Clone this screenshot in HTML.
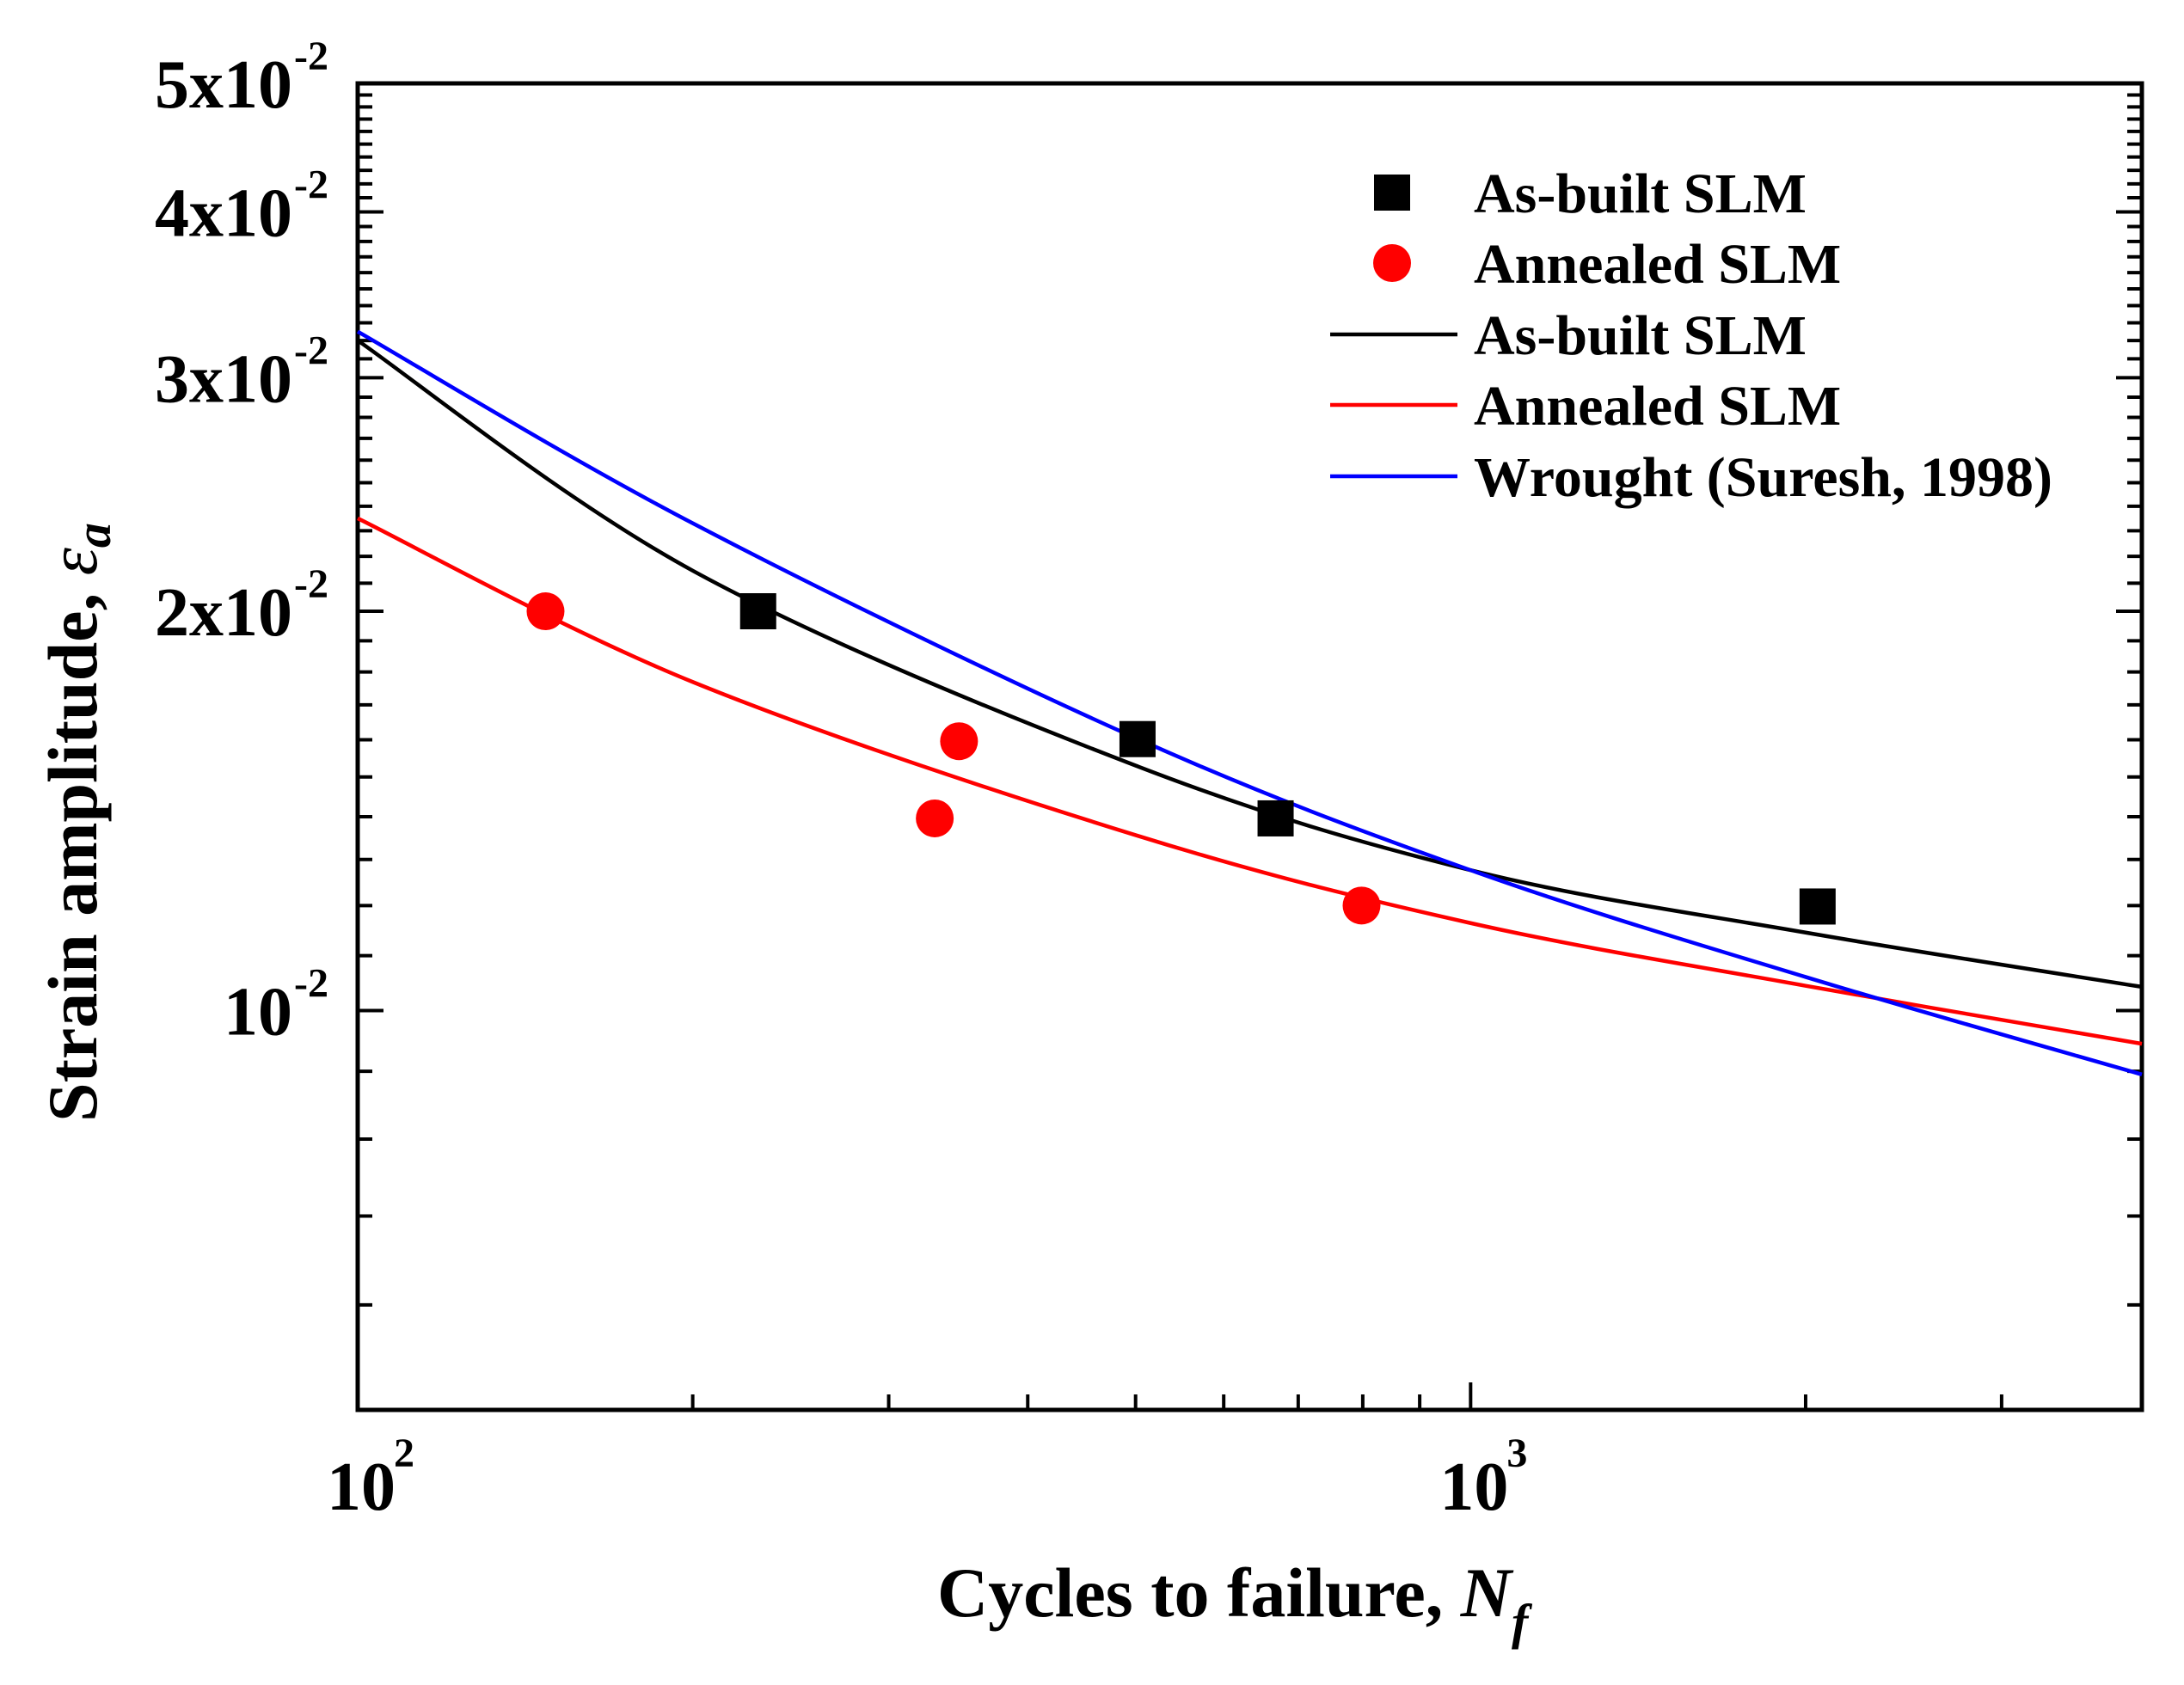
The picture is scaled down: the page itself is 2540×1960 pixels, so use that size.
<!DOCTYPE html>
<html><head><meta charset="utf-8"><style>
html,body{margin:0;padding:0;background:#fff}
svg{display:block}
text{font-family:"Liberation Serif",serif;font-weight:bold;fill:#000}
</style></head><body>
<svg id="chart" width="2540" height="1960" viewBox="0 0 2540 1960" xmlns="http://www.w3.org/2000/svg">
<g id="grid"></g>
<g id="series"></g>
<g id="legend"></g>
</svg>
<script>
const xDomain=[100,4010];
const yDomain=[0.005,0.05];
const asBuiltN=[229,502,668,2050];
const asBuiltE=[0.0200,0.01602,0.01396,0.01198];
const annealedN=[147.5,347,330,798];
const annealedE=[0.0200,0.01596,0.01396,0.0120];
const fitN=[100,200,500,1000,2000,4010];
const fitAsBuilt=[0.0320,0.02146,0.0153,0.01276,0.01145,0.01042];
const fitAnnealed=[0.0235,0.01769,0.01356,0.01164,0.01044,0.00944];
const fitWrought=[0.0325,0.0233,0.01605,0.01276,0.0106,0.00895];
const yMajor=[0.01,0.02,0.03,0.04,0.05];
const yMajorLabels=[["10","-2"],["2x10","-2"],["3x10","-2"],["4x10","-2"],["5x10","-2"]];
const xMajor=[100,1000];
const xMajorLabels=[["10","2"],["10","3"]];

const L=416,R=2491,T=97,B=1640;
const NS="http://www.w3.org/2000/svg";
function sx(v){return L+(Math.log10(v)-Math.log10(xDomain[0]))/(Math.log10(xDomain[1])-Math.log10(xDomain[0]))*(R-L);}
function sy(v){return B-(Math.log10(v)-Math.log10(yDomain[0]))/(Math.log10(yDomain[1])-Math.log10(yDomain[0]))*(B-T);}
function mk(tag,attrs,parent){const e=document.createElementNS(NS,tag);for(const k in attrs)e.setAttribute(k,attrs[k]);parent.appendChild(e);return e;}
const g=document.getElementById('grid'),s=document.getElementById('series'),lg=document.getElementById('legend');

let fr=mk('rect',{x:L,y:T,width:R-L,height:B-T,fill:'none',stroke:'#000','stroke-width':5},g);



for(let k=5;k<=50;k++){
  const v=k/1000;const y=sy(v);
  const major=yMajor.some(m=>Math.abs(m-v)<1e-9);
  const len=major?30:17;
  let t1=mk('line',{x1:L,x2:L+len,y1:y,y2:y,stroke:'#000','stroke-width':4},g);
  
  
  let t2=mk('line',{x1:R-len,x2:R,y1:y,y2:y,stroke:'#000','stroke-width':4},g);
  
  
}
yMajor.forEach((v,i)=>{
  const t=mk('text',{x:340,y:sy(v)+28,'text-anchor':'end','font-size':80},g);
  
  
  t.textContent=yMajorLabels[i][0];
  const sp=mk('text',{x:342,y:sy(v)-16,'text-anchor':'start','font-size':48},g);
  
  
  sp.textContent=yMajorLabels[i][1];
});
const xt=[200,300,400,500,600,700,800,900,1000,2000,3000];
xt.forEach(v=>{
  const x=sx(v);const len=v===1000?32:18;
  const t=mk('line',{x1:x,x2:x,y1:B,y2:B-len,stroke:'#000','stroke-width':4},g);
  
  
});
xMajor.forEach((v,i)=>{
  const t=mk('text',{x:sx(v)+4,y:1756,'text-anchor':'middle','font-size':80},g);
  
  
  t.textContent=xMajorLabels[i][0];
  const sp=mk('text',{x:sx(v)+42,y:1706,'font-size':48},g);
  
  
  sp.textContent=xMajorLabels[i][1];
});
let xtl=mk('text',{x:1090,y:1880,'font-size':82},g);


xtl.innerHTML='Cycles to failure, <tspan font-style="italic">N</tspan><tspan font-style="italic" font-size="58" dy="26">f</tspan>';
let ytl=mk('text',{x:0,y:0,'font-size':82,transform:'translate(112,1305) rotate(-90)'},g);


ytl.innerHTML='Strain amplitude, <tspan font-style="italic" font-weight="normal">ε</tspan><tspan font-style="italic" font-size="58" dy="16">a</tspan>';

function curve(xs,ys,color,name){
  const pts=xs.map((v,i)=>[sx(v),sy(ys[i])]);
  let d='M'+pts[0][0]+','+pts[0][1];
  for(let i=0;i<pts.length-1;i++){
    const p0=pts[Math.max(0,i-1)],p1=pts[i],p2=pts[i+1],p3=pts[Math.min(pts.length-1,i+2)];
    const c1=[p1[0]+(p2[0]-p0[0])/6,p1[1]+(p2[1]-p0[1])/6];
    const c2=[p2[0]-(p3[0]-p1[0])/6,p2[1]-(p3[1]-p1[1])/6];
    d+=' C'+c1+' '+c2+' '+p2;
  }
  const p=mk('path',{d:d,fill:'none',stroke:color,'stroke-width':4.5},s);
  
  
}
curve(fitN,fitAsBuilt,'#000','as-built-fit-line');
curve(fitN,fitAnnealed,'#ff0000','annealed-fit-line');
curve(fitN,fitWrought,'#0000ff','wrought-fit-line');
asBuiltN.forEach((v,i)=>{
  const r=mk('rect',{x:sx(v)-21,y:sy(asBuiltE[i])-21,width:42,height:42,fill:'#000'},s);
  
  
});
annealedN.forEach((v,i)=>{
  const c=mk('circle',{cx:sx(v),cy:sy(annealedE[i]),r:22,fill:'#ff0000'},s);
  
  
});

const rows=[224,306,389,471,554];
const labels=['As-built SLM','Annealed SLM','As-built SLM','Annealed SLM','Wrought (Suresh, 1998)'];
let m1=mk('rect',{x:1598,y:rows[0]-21,width:42,height:42,fill:'#000'},lg);


let m2=mk('circle',{cx:1619,cy:rows[1],r:22,fill:'#ff0000'},lg);


const lc=['#000','#ff0000','#0000ff'];
for(let i=0;i<3;i++){
  const l=mk('line',{x1:1547,x2:1695,y1:rows[i+2],y2:rows[i+2],stroke:lc[i],'stroke-width':4.5},lg);
  
  
}
labels.forEach((t,i)=>{
  const e=mk('text',{x:1714,y:rows[i]+23,'font-size':66},lg);
  
  
  e.textContent=t;
});
</script>
</body></html>
